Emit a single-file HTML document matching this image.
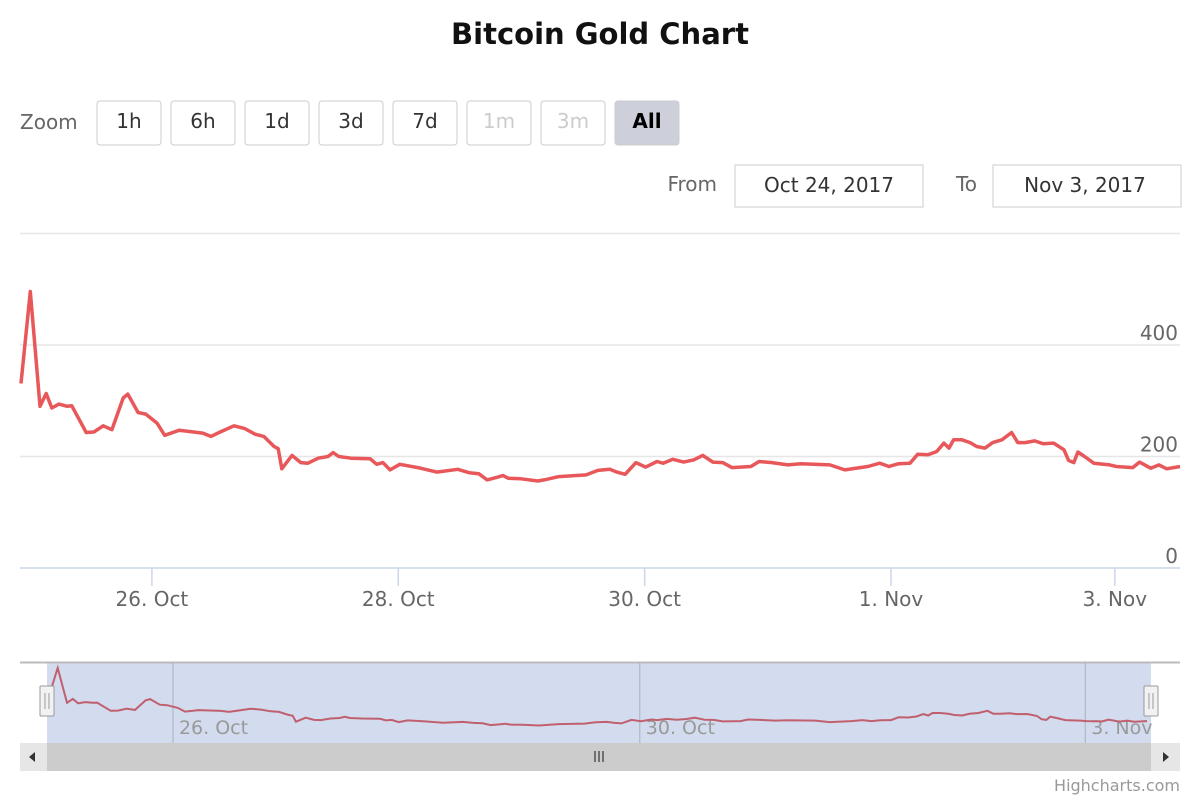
<!DOCTYPE html>
<html><head><meta charset="utf-8"><style>
body{margin:0;background:#fff;font-family:"DejaVu Sans","Liberation Sans",sans-serif;}
svg text{font-family:"DejaVu Sans","Liberation Sans",sans-serif;}
</style></head><body>
<svg id="c" width="1200" height="800" viewBox="0 0 1200 800">
<text x="600" y="44" text-anchor="middle" font-size="29" font-weight="bold" fill="#111">Bitcoin Gold Chart</text>
<text x="20" y="129" font-size="20" fill="#666">Zoom</text>
<g id="btns"></g>
<text x="717" y="191" text-anchor="end" font-size="20" fill="#666">From</text>
<rect x="735" y="165" width="188" height="42" fill="#fff" stroke="#ccc"/>
<text x="829" y="192" text-anchor="middle" font-size="20" fill="#333">Oct 24, 2017</text>
<text x="977" y="191" text-anchor="end" font-size="20" fill="#666">To</text>
<rect x="993" y="165" width="188" height="42" fill="#fff" stroke="#ccc"/>
<text x="1085" y="192" text-anchor="middle" font-size="20" fill="#333">Nov 3, 2017</text>
<g id="grid"></g>
<g id="xax"></g>
<g id="nav"></g>
<text x="1180" y="791" text-anchor="end" font-size="16" fill="#999">Highcharts.com</text>
</svg>
<script>
const hours=[22.5,24.3,26.2,27.4,28.5,29.9,31.5,32.4,35.2,36.7,38.5,40.2,42.4,43.3,45.3,46.8,49.0,50.5,53.3,57.9,59.5,61.3,64.0,66.1,68.1,69.8,71.8,72.6,73.3,75.3,77.0,78.4,80.4,82.3,83.3,84.4,86.8,90.5,91.8,93.0,94.4,96.3,99.8,103.5,107.6,109.8,111.7,113.3,115.4,116.4,117.4,119.9,123.2,124.4,127.3,132.6,134.9,
137.2,138.6,140.2,142.3,144.2,146.4,147.6,149.5,151.6,153.6,155.3,157.3,159.2,161.0,164.7,166.3,168.8,171.9,174.4,180.1,183.0,187.5,189.8,191.6,193.5,195.7,197.2,199.2,200.9,202.3,203.3,204.2,205.8,207.4,208.7,210.3,211.8,213.6,215.5,216.7,218.1,220.0,221.6,223.7,225.7,226.6,227.6,228.4,229.7,231.5,234.6,235.9,239.1,240.4,242.6,244.2,245.7,248.3];
const prices=[331,496,290,313,287,294,290,291,243,244,255,248,305,312,279,276,260,238,247,242,236,244,255,250,240,236,218,214,178,202,189,188,197,200,207,200,197,196,186,189,176,186,180,172,177,171,169,158,163,166,161,160,156,158,164,167,175,
177,172,168,189,181,191,188,195,190,194,202,190,189,180,182,191,189,185,187,185,176,182,188,182,187,188,204,203,209,224,215,230,230,225,218,215,225,230,243,225,225,228,223,224,212,193,189,208,200,188,185,182,180,190,179,185,178,182];
const yTicks=[0,200,400,600];
const yTickLabels=["0","200","400",""];
const xTickHours=[48,96,144,192,235.6];
const xTickLabels=["26. Oct","28. Oct","30. Oct","1. Nov","3. Nov"];
const navTickHours=[48,144,235.6];
const navTickLabels=["26. Oct","30. Oct","3. Nov"];
const zoomButtons=["1h","6h","1d","3d","7d","1m","3m","All"];
const disabledButtons=["1m","3m"];

const NS="http://www.w3.org/2000/svg";
function mk(t,a,p){const e=document.createElementNS(NS,t);for(const k in a)e.setAttribute(k,a[k]);p.appendChild(e);return e;}
const H0=22.3,H1=248.3;
const xS=h=>20+(h-H0)/(H1-H0)*1160;
const yS=v=>568-v*0.5575;
const nxS=h=>48+(h-H0)/(H1-H0)*1099;
const nyS=v=>668+(496-v)*0.169;

const btns=document.getElementById('btns');
zoomButtons.forEach((b,i)=>{
  const x=97+i*74;
  const sel=b==="All", dis=disabledButtons.includes(b);
  const r=mk('rect',{x:x,y:101,width:64,height:44,rx:3,fill:sel?'#cdd0db':'#fff',stroke:'#ccc'},btns);
  
  
  const t=mk('text',{x:x+32,y:128,'text-anchor':'middle','font-size':20,fill:dis?'#ccc':(sel?'#000':'#333'),'font-weight':sel?'bold':'normal'},btns);
  t.textContent=b;
  
  
});

const g=document.getElementById('grid');
yTicks.forEach((v,i)=>{
  const l=mk('line',{x1:20,x2:1180,y1:yS(v),y2:yS(v),stroke:i===0?'#ccd6eb':'#e6e6e6','stroke-width':i===0?1.5:1.5},g);
  
  
  if(yTickLabels[i]){
    const t=mk('text',{x:1178,y:yS(v)-5,'text-anchor':'end','font-size':20,fill:'#666'},g);
    t.textContent=yTickLabels[i];
    
    
  }
});
const xa=document.getElementById('xax');
xTickHours.forEach((h,i)=>{
  const x=xS(h);
  const l=mk('line',{x1:x,x2:x,y1:568,y2:586,stroke:'#ccd6eb','stroke-width':1.5},xa);
  
  
  const t=mk('text',{x:x,y:606,'text-anchor':'middle','font-size':20,fill:'#666'},xa);
  t.textContent=xTickLabels[i];
  
  
});
const pts=hours.map((h,i)=>xS(h).toFixed(1)+','+yS(prices[i]).toFixed(1)).join(' ');
const line=mk('polyline',{points:pts,fill:'none',stroke:'#e8585a','stroke-width':3.5,'stroke-linejoin':'round'},xa);



const nv=document.getElementById('nav');
let e=mk('rect',{x:47,y:663,width:1104,height:80,fill:'#d3dbee'},nv);


e=mk('line',{x1:20,x2:1180,y1:662.5,y2:662.5,stroke:'#bbb','stroke-width':2},nv);


navTickHours.forEach((h,i)=>{
  const x=nxS(h);
  const l=mk('line',{x1:x,x2:x,y1:663,y2:743,stroke:'#a9b0c0','stroke-width':1},nv);
  
  
  const t=mk('text',{x:x+6,y:734,'font-size':19,fill:'#999'},nv);
  t.textContent=navTickLabels[i];
  
  
});
const npts=hours.map((h,i)=>nxS(h).toFixed(1)+','+nyS(prices[i]).toFixed(1)).join(' ');
e=mk('polyline',{points:npts,fill:'none',stroke:'#c0606f','stroke-width':2},nv);


[47,1151].forEach((x,i)=>{
  const r=mk('rect',{x:x-7,y:686,width:14,height:30,fill:'#f2f2f2',stroke:'#999',rx:1},nv);
  
  
  mk('line',{x1:x-2,x2:x-2,y1:693,y2:709,stroke:'#999'},nv);
  mk('line',{x1:x+2,x2:x+2,y1:693,y2:709,stroke:'#999'},nv);
});
e=mk('rect',{x:20,y:743,width:1160,height:28,fill:'#f2f2f2'},nv);


e=mk('rect',{x:47,y:743,width:1104,height:28,fill:'#cccccc'},nv);


[595,599,603].forEach(x=>mk('line',{x1:x,x2:x,y1:751,y2:762,stroke:'#333','stroke-width':1.2},nv));
e=mk('rect',{x:20,y:743,width:27,height:28,fill:'#e6e6e6'},nv);


e=mk('rect',{x:1151,y:743,width:29,height:28,fill:'#e6e6e6'},nv);


mk('path',{d:'M35,752 L29,757 L35,762 Z',fill:'#333'},nv);
mk('path',{d:'M1163,752 L1169,757 L1163,762 Z',fill:'#333'},nv);
</script>
</body></html>
